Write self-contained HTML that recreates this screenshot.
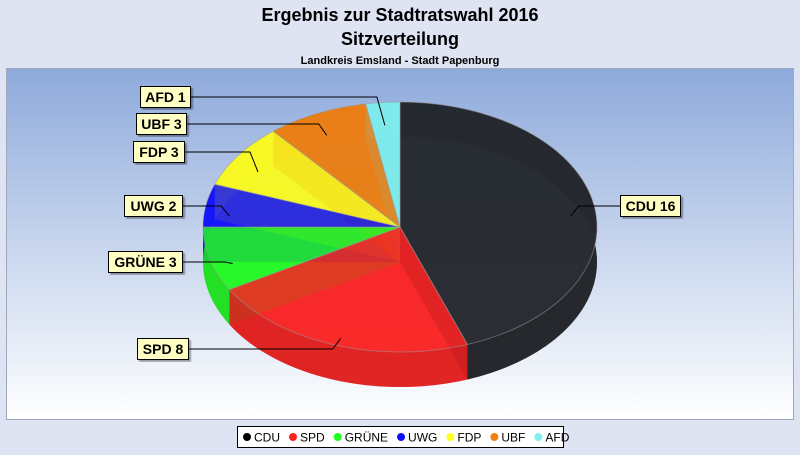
<!DOCTYPE html>
<html><head><meta charset="utf-8"><style>
body{margin:0;width:800px;height:450px;background:#dfe4f3;font-family:"Liberation Sans",sans-serif;overflow:hidden}
</style></head><body>
<svg width="800" height="450" xmlns="http://www.w3.org/2000/svg">
<defs>
<linearGradient id="bg" x1="0" y1="0" x2="0" y2="1"><stop offset="0" stop-color="#8eaadb"/><stop offset="1" stop-color="#ffffff"/></linearGradient>
<filter id="sh"><feDropShadow dx="2" dy="2" stdDeviation="0.8" flood-color="#000" flood-opacity="0.35"/></filter>
</defs>
<text x="400" y="21" text-anchor="middle" font-size="18" font-weight="bold">Ergebnis zur Stadtratswahl 2016</text>
<text x="400" y="45" text-anchor="middle" font-size="18" font-weight="bold">Sitzverteilung</text>
<text x="400" y="64" text-anchor="middle" font-size="11" font-weight="bold">Landkreis Emsland - Stadt Papenburg</text>
<rect x="6.5" y="68.5" width="787" height="351" fill="url(#bg)" stroke="#a0a8c0"/>
<g id="pie"></g>
<g id="labels"></g>
<g>
<rect x="237.5" y="426.5" width="326" height="21" fill="#fff" stroke="#000"/>
<g id="legend" font-size="12"></g>
</g>
</svg>
<script>
const categories=["CDU","SPD","GRÜNE","UWG","FDP","UBF","AFD"];
const seats=[16,8,3,2,3,3,1];
const colors=["#22252b","#ff2020","#20ff20","#1010ff","#ffff20","#f08010","#80f0f0"];
const NS="http://www.w3.org/2000/svg";
const cx=400,cy=227,rx=197,ry=125,depth=35;
const total=seats.reduce((a,b)=>a+b,0);
function pt(a,dy){return [cx+rx*Math.sin(a),cy-ry*Math.cos(a)+(dy||0)];}
function mk(tag,attrs,parent){const e=document.createElementNS(NS,tag);for(const k in attrs)e.setAttribute(k,attrs[k]);parent.appendChild(e);return e;}
const pie=document.getElementById('pie');
const slices=[];let acc=0;
seats.forEach((v,i)=>{const a0=acc/total*2*Math.PI;acc+=v;const a1=acc/total*2*Math.PI;slices.push([a0,a1]);});
function sector(a0,a1,dy){const p0=pt(a0,dy),p1=pt(a1,dy);const lg=(a1-a0)>Math.PI?1:0;
return `M${cx},${cy+dy}L${p0[0]},${p0[1]}A${rx},${ry} 0 ${lg} 1 ${p1[0]},${p1[1]}Z`;}
function shade(c,f){const n=parseInt(c.slice(1),16);let r=(n>>16)&255,g=(n>>8)&255,b=n&255;r=Math.round(r*f);g=Math.round(g*f);b=Math.round(b*f);return `rgb(${r},${g},${b})`;}
// bottom faces
slices.forEach((s,i)=>{const e=mk('path',{d:sector(s[0],s[1],depth),fill:shade(colors[i],0.85),'fill-opacity':0.75},pie);
});
// radial walls
slices.forEach((s,i)=>{[s[0],s[1]].forEach(a=>{const p=pt(a,0);
const e=mk('path',{d:`M${cx},${cy}L${p[0]},${p[1]}L${p[0]},${p[1]+depth}L${cx},${cy+depth}Z`,fill:shade(colors[i],0.8),'fill-opacity':0.35},pie);
});});
// outer walls
slices.forEach((s,i)=>{const N=40;let d='';for(let k=0;k<=N;k++){const p=pt(s[0]+(s[1]-s[0])*k/N,0);d+=(k?'L':'M')+p[0]+','+p[1];}
for(let k=N;k>=0;k--){const p=pt(s[0]+(s[1]-s[0])*k/N,depth);d+='L'+p[0]+','+p[1];}d+='Z';
const e=mk('path',{d:d,fill:shade(colors[i],0.88),'fill-opacity':0.85},pie);
});
// top faces
slices.forEach((s,i)=>{const e=mk('path',{d:sector(s[0],s[1],0),fill:colors[i],'fill-opacity':0.8,stroke:'#999','stroke-opacity':0.5,'stroke-width':1},pie);
});
// labels
const lab=document.getElementById('labels');
const boxes=[[620,195,60],[137,338,51],[108,251,74],[124,195,58],[133,141,51],[136,113,50],[140,86,50]];
slices.forEach((s,i)=>{const m=(s[0]+s[1])/2;const a=pt(m,0);const ax=cx+(a[0]-cx)*0.88,ay=cy+(a[1]-cy)*0.88+8;
const b=boxes[i];const right=b[0]>cx;const bx=right?b[0]:b[0]+b[2];const by=b[1]+11;
const l=mk('polyline',{points:`${ax},${ay} ${ax+(right?8:-8)},${by} ${bx},${by}`,fill:'none',stroke:'#000'},lab);

const r=mk('rect',{x:b[0]+0.5,y:b[1]+0.5,width:b[2],height:21,fill:'#ffffc4',stroke:'#000',filter:'url(#sh)'},lab);

const t=mk('text',{x:b[0]+b[2]/2+0.5,y:b[1]+16,'text-anchor':'middle','font-size':14,'font-weight':'bold'},lab);
t.textContent=categories[i]+' '+seats[i];
});
// legend
const lg=document.getElementById('legend');let x=243;
categories.forEach((c,i)=>{const g=mk('g',{},lg);
mk('circle',{cx:x+4,cy:437,r:4,fill:colors[i]==="#22252b"?"#000":colors[i]},g);
const t=mk('text',{x:x+11,y:441.5},g);t.textContent=c;x+=11+t.getComputedTextLength()+9;});
</script>
</body></html>
